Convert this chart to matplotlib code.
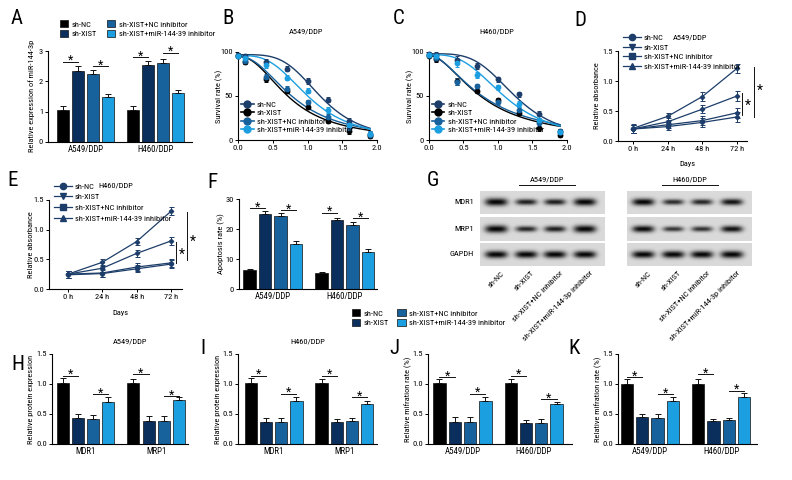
import numpy as np
import matplotlib
matplotlib.use('Agg')
import matplotlib.pyplot as plt
from matplotlib import font_manager as fm
from matplotlib.patches import Patch
from matplotlib.lines import Line2D

# ---------------- data ----------------
groups_cell = ['A549/DDP', 'H460/DDP']
groups_prot = ['MDR1', 'MRP1']
series = ['sh-NC', 'sh-XIST', 'sh-XIST+NC inhibitor', 'sh-XIST+miR-144-39 inhibitor']

A_mean = [[1.05, 2.35, 2.25, 1.50], [1.05, 2.55, 2.60, 1.60]]
A_err = [[0.15, 0.15, 0.12, 0.08], [0.15, 0.12, 0.15, 0.13]]
A_sig = [[2.65, 2.50], [2.80, 2.95]]

doses = [0.0, 0.1, 0.4, 0.7, 1.0, 1.3, 1.6, 1.9]
B_NC = [97, 95, 89, 81, 67, 46, 22, 7]
B_XIST = [95, 89, 69, 56, 38, 22, 10, 5]
B_NCinh = [95, 90, 72, 58, 43, 26, 14, 6]
B_miR = [96, 93, 85, 71, 56, 34, 17, 7]
B_err = [2, 3, 3, 3, 3, 3, 3, 3]
C_NC = [98, 97, 91, 84, 69, 52, 29, 10]
C_XIST = [96, 92, 67, 56, 45, 31, 14, 6]
C_NCinh = [97, 93, 66, 61, 43, 34, 19, 9]
C_miR = [97, 95, 87, 74, 60, 41, 23, 9]
C_err = [2, 3, 4, 3, 3, 3, 4, 3]

time_labels = ['0 h', '24 h', '48 h', '72 h']
D_NC = [0.21, 0.41, 0.74, 1.21]
D_XIST = [0.20, 0.24, 0.31, 0.40]
D_NCinh = [0.20, 0.27, 0.34, 0.47]
D_miR = [0.20, 0.32, 0.53, 0.75]
D_err = [0.07, 0.06, 0.07, 0.08]
E_NC = [0.25, 0.45, 0.80, 1.31]
E_XIST = [0.24, 0.26, 0.34, 0.42]
E_NCinh = [0.25, 0.27, 0.37, 0.44]
E_miR = [0.25, 0.35, 0.60, 0.81]
E_err = [0.06, 0.06, 0.06, 0.07]

F_mean = [[6.2, 25.1, 24.2, 15.1], [5.2, 23.1, 21.2, 12.2]]
F_err = [[0.6, 1.0, 1.2, 1.0], [0.4, 0.7, 1.0, 1.0]]
F_sig = [[27.0, 26.4], [25.5, 23.7]]

lanes = ['sh-NC', 'sh-XIST', 'sh-XIST+NC inhibitor', 'sh-XIST+miR-144-3p inhibitor']
blot_rows = ['MDR1', 'MRP1', 'GAPDH']
blot_A549 = [[1.00, 0.60, 0.62, 0.92], [1.00, 0.55, 0.62, 0.95], [1.00, 0.95, 0.95, 0.95]]
blot_H460 = [[0.85, 0.50, 0.55, 0.70], [0.78, 0.42, 0.45, 0.72], [0.95, 0.95, 0.95, 1.00]]

H_mean = [[1.02, 0.43, 0.42, 0.70], [1.02, 0.38, 0.38, 0.73]]
H_err = [[0.08, 0.07, 0.06, 0.08], [0.06, 0.09, 0.08, 0.05]]
H_sig = [[1.14, 0.83], [1.16, 0.80]]
I_mean = [[1.02, 0.37, 0.37, 0.72], [1.02, 0.36, 0.38, 0.67]]
I_err = [[0.08, 0.06, 0.06, 0.06], [0.06, 0.05, 0.05, 0.05]]
I_sig = [[1.14, 0.84], [1.14, 0.78]]
J_mean = [[1.01, 0.36, 0.37, 0.72], [1.02, 0.35, 0.35, 0.66]]
J_err = [[0.07, 0.09, 0.08, 0.06], [0.06, 0.05, 0.06, 0.04]]
J_sig = [[1.12, 0.84], [1.14, 0.75]]
K_mean = [[1.00, 0.45, 0.43, 0.72], [1.00, 0.38, 0.40, 0.79]]
K_err = [[0.08, 0.05, 0.07, 0.06], [0.08, 0.03, 0.04, 0.06]]
K_sig = [[1.12, 0.83], [1.16, 0.89]]

# ---------------- font selection ----------------
ttf = fm.fontManager.ttflist
names = {f.name for f in ttf}
narrow = None
stretch_mode = False
for cand in ['Liberation Sans Narrow', 'Arial Narrow', 'Roboto Condensed', 'Open Sans Condensed',
             'Noto Sans Condensed', 'DejaVu Sans Condensed']:
    if cand in names:
        narrow = cand
        break
if narrow is None:
    for base in ['Noto Sans', 'Open Sans', 'Roboto', 'DejaVu Sans', 'Inter']:
        if any(f.name == base and f.stretch in ('condensed', 'semi-condensed', 'extra-condensed')
               and f.weight in (400, 'normal', 'regular') and f.style == 'normal' for f in ttf):
            narrow = base
            stretch_mode = True
            break
if narrow is not None:
    plt.rcParams['font.family'] = [narrow, 'DejaVu Sans']
    if stretch_mode:
        plt.rcParams['font.stretch'] = 'condensed'
    TS, CS, LS = 6.0, 6.3, 6.0
else:
    base = 'Liberation Sans' if 'Liberation Sans' in names else 'DejaVu Sans'
    plt.rcParams['font.family'] = [base, 'DejaVu Sans']
    TS, CS, LS = 5.0, 5.4, 4.8

COLORS = ['#000000', '#0b2f5c', '#17619c', '#1c9fe0']
LINEC = '#1d3e6a'
W, Hh = 792, 480
fig = plt.figure(figsize=(7.92, 4.8), dpi=100)
GOFF = 4.65


def add_ax(l, t, r, b):
    return fig.add_axes([l / W, 1 - b / Hh, (r - l) / W, (b - t) / Hh])


def ftext(x, y, s, **kw):
    fig.text(x / W, 1 - y / Hh, s, **kw)


def style(ax):
    for s in ['top', 'right']:
        ax.spines[s].set_visible(False)
    for s in ['left', 'bottom']:
        ax.spines[s].set_linewidth(0.8)
    ax.tick_params(labelsize=TS, length=2.5, width=0.7, pad=1.0)
    ax.patch.set_alpha(0)


def star(ax, x, y, size=9):
    ax.annotate('*', (x, y), xytext=(0, -1.5), textcoords='offset points',
                ha='center', va='center', fontsize=size, annotation_clip=False)


def bar_panel(rect, xlim, mean, err, sig, ylim, yticks, cats, yfmt):
    ax = add_ax(*rect)
    style(ax)
    for g in range(len(mean)):
        for i in range(4):
            x = g * GOFF + i
            ax.bar(x, mean[g][i], 0.8, color=COLORS[i], edgecolor='#111111', linewidth=0.5, zorder=2)
            ax.errorbar(x, mean[g][i], yerr=[[0], [err[g][i]]], color='#111111', lw=0.7,
                        capsize=2.2, capthick=0.7, zorder=3)
        for k, h in enumerate(sig[g]):
            x0 = g * GOFF + 2 * k
            ax.plot([x0, x0 + 1], [h, h], color='#111111', lw=0.7, clip_on=False)
            star(ax, x0 + 0.5, h + (ylim[1] - ylim[0]) * 0.035)
    ax.set_xlim(*xlim)
    ax.set_ylim(*ylim)
    ax.set_yticks(yticks)
    ax.set_yticklabels([yfmt.format(v) for v in yticks])
    ax.set_xticks([g * GOFF + 1.5 for g in range(len(cats))])
    ax.set_xticklabels(cats, fontsize=CS)
    ax.tick_params(axis='x', length=0, pad=2)
    return ax


# ---------------- A ----------------
bar_panel((48, 51, 192, 142), (-1.0, 8.6), A_mean, A_err, A_sig, (0, 3), [0, 1, 2, 3], groups_cell, '{:d}')
ftext(32, 96, 'Relative expression of miR-144-3p', rotation=90, ha='center', va='center', fontsize=TS)
handles = [Patch(facecolor=c, edgecolor='#111111', linewidth=0.5) for c in COLORS]
fig.legend(handles, series, ncol=2, loc='upper left', bbox_to_anchor=(60 / W, 1 - 20 / Hh),
           fontsize=LS, frameon=False, handlelength=1.0, handleheight=1.0, columnspacing=1.2,
           labelspacing=0.25, handletextpad=0.4, borderpad=0, borderaxespad=0)


# ---------------- B, C ----------------
def fit_curve(x, y):
    x = np.asarray(x, float)
    y = np.asarray(y, float)
    top = y[0]
    best = None
    for c in np.linspace(0.4, 2.5, 211):
        for h in np.linspace(0.8, 6, 105):
            pred = top / (1 + (x / c) ** h)
            e = np.sum((pred - y) ** 2)
            if best is None or e < best[0]:
                best = (e, c, h)
    xs = np.linspace(0, x[-1], 200)
    return xs, top / (1 + (xs / best[1]) ** best[2])


SURV_COL = [LINEC, '#000000', '#17619c', '#1c9fe0']


def surv_panel(rect, data, err, title, title_xy):
    ax = add_ax(*rect)
    style(ax)
    for d, c in zip(data, SURV_COL):
        xs, ys = fit_curve(doses, d)
        ax.plot(xs, ys, color=c, lw=1.0, zorder=2)
        ax.errorbar(doses, d, yerr=err, fmt='o', color=c, ms=3.2, lw=0.7, capsize=1.5,
                    capthick=0.7, zorder=3, clip_on=False)
    ax.set_xlim(0, 2.0)
    ax.set_ylim(0, 100)
    ax.set_xticks([0, 0.5, 1.0, 1.5, 2.0])
    ax.set_xticklabels(['0.0', '0.5', '1.0', '1.5', '2.0'])
    ax.set_yticks([0, 50, 100])
    hs = [Line2D([], [], color=c, marker='o', ms=5, lw=1.2) for c in SURV_COL]
    ax.legend(hs, series, loc='upper left', bbox_to_anchor=((rect[0] + 3) / W, 1 - 101 / Hh),
              bbox_transform=fig.transFigure, fontsize=LS, frameon=False, handlelength=1.5,
              labelspacing=0.2, handletextpad=0.4, borderpad=0, borderaxespad=0)
    ftext(title_xy[0], title_xy[1], title, ha='center', va='center', fontsize=TS)
    return ax


surv_panel((238, 52, 377, 140), [B_NC, B_XIST, B_NCinh, B_miR], B_err, 'A549/DDP', (306, 31))
ftext(219, 96, 'Survival rate (%)', rotation=90, ha='center', va='center', fontsize=TS)
surv_panel((429, 52, 567, 140), [C_NC, C_XIST, C_NCinh, C_miR], C_err, 'H460/DDP', (497, 31))
ftext(410, 96, 'Survival rate (%)', rotation=90, ha='center', va='center', fontsize=TS)

# ---------------- D, E ----------------
MARKS = ['o', 'v', 's', '^']


def time_panel(rect, xlim, data, err, ylabel_x, days_y, title, title_xy, leg_xy, sig, lsp):
    ax = add_ax(*rect)
    style(ax)
    tx = np.arange(len(time_labels))
    for d in data:
        ax.errorbar(tx, d, yerr=err, color=LINEC, lw=0.9, marker='D', ms=2.2, capsize=1.8,
                    capthick=0.7, elinewidth=0.7)
    ax.set_xlim(*xlim)
    ax.set_ylim(0, 1.5)
    ax.set_yticks([0, 0.5, 1.0, 1.5])
    ax.set_yticklabels(['0.0', '0.5', '1.0', '1.5'])
    ax.set_xticks(tx)
    ax.set_xticklabels(time_labels)
    hs = [Line2D([], [], color=LINEC, marker=m, ms=4.5, lw=0.9) for m in MARKS]
    ax.legend(hs, series, loc='upper left', bbox_to_anchor=(leg_xy[0] / W, 1 - leg_xy[1] / Hh),
              bbox_transform=fig.transFigure, fontsize=LS, frameon=False, handlelength=2.2,
              labelspacing=lsp, handletextpad=0.3, borderpad=0, borderaxespad=0)
    ftext(title_xy[0], title_xy[1], title, ha='center', va='center', fontsize=TS)
    ftext((rect[0] + rect[2]) / 2 + 5, days_y, 'Days', ha='center', va='center', fontsize=TS)
    ftext(ylabel_x, (rect[1] + rect[3]) / 2, 'Relative absorbance', rotation=90, ha='center',
          va='center', fontsize=TS)
    for (x, y0, y1, sx, sy) in sig:
        ax.plot([x, x], [y0, y1], color='#111111', lw=0.7, clip_on=False)
        ax.annotate('*', (sx, sy), ha='center', va='center', fontsize=10, annotation_clip=False)
    return ax


time_panel((618, 51, 747, 141), (-0.43, 3.29), [D_NC, D_XIST, D_NCinh, D_miR], D_err,
           597, 164, 'A549/DDP', (690, 38), (623, 34),
           [(3.14, 0.43, 0.80, 3.30, 0.58), (3.49, 0.40, 1.23, 3.66, 0.83)], 0.35)
time_panel((49, 200, 182, 289), (-0.55, 3.32), [E_NC, E_XIST, E_NCinh, E_miR], E_err,
           31, 313, 'H460/DDP', (116, 186), (54, 183),
           [(3.15, 0.44, 0.79, 3.32, 0.57), (3.47, 0.49, 1.30, 3.64, 0.80)], 0.45)

# ---------------- F ----------------
bar_panel((239, 199, 377, 289), (-0.68, 8.23), F_mean, F_err, F_sig, (0, 30), [0, 10, 20, 30],
          groups_cell, '{:d}')
ftext(221, 244, 'Apoptosis rate (%)', rotation=90, ha='center', va='center', fontsize=TS)

# ---------------- G (western blot) ----------------
lane_frac = [0.13, 0.37, 0.60, 0.84]


def blot_box(l, t, r, b, strengths):
    ax = add_ax(l, t, r, b)
    ax.set_axis_off()
    nx, ny = (r - l) * 4, (b - t) * 4
    xs = np.linspace(0, 1, nx)[None, :]
    ys = np.linspace(0, 1, ny)[:, None]
    arr = np.full((ny, nx), 0.855)
    for xc, s in zip(lane_frac, strengths):
        wx = 0.078 + 0.012 * s
        wy = 0.07 + 0.09 * s
        prof = np.exp(-np.abs((xs - xc) / wx) ** 3.5) * np.exp(-((ys - 0.5) / wy) ** 2)
        arr -= 0.84 * min(1.0, 0.55 + 0.55 * s) * prof
    ax.imshow(np.clip(arr, 0, 1), cmap='gray', vmin=0, vmax=1, aspect='auto',
              interpolation='bilinear')


row_tb = [(191, 214), (217, 241), (243, 266)]
for (t, b), sa, sh in zip(row_tb, blot_A549, blot_H460):
    blot_box(480, t, 605, b, sa)
    blot_box(627, t, 752, b, sh)
for name, (t, b) in zip(blot_rows, row_tb):
    ftext(474, (t + b) / 2, name, ha='right', va='center', fontsize=TS)
ftext(547, 179, 'A549/DDP', ha='center', va='center', fontsize=TS)
ftext(690, 179, 'H460/DDP', ha='center', va='center', fontsize=TS)
fig.add_artist(Line2D([519 / W, 575 / W], [1 - 185 / Hh, 1 - 185 / Hh], color='#111111', lw=0.7))
fig.add_artist(Line2D([662 / W, 718 / W], [1 - 185 / Hh, 1 - 185 / Hh], color='#111111', lw=0.7))
for box_l in (480, 627):
    for fr, name in zip(lane_frac, lanes):
        x = box_l + fr * 125 + 5
        fig.text(x / W, 1 - 270 / Hh, name, rotation=45, ha='right', va='top',
                 rotation_mode='anchor', fontsize=LS)

# ---------------- H-K ----------------
fig.legend(handles, series, ncol=2, loc='upper left', bbox_to_anchor=(352 / W, 1 - 309 / Hh),
           fontsize=LS, frameon=False, handlelength=1.0, handleheight=1.0, columnspacing=1.0,
           labelspacing=0.25, handletextpad=0.4, borderpad=0, borderaxespad=0)

bar_panel((52, 354, 188, 444), (-0.72, 8.25), H_mean, H_err, H_sig, (0, 1.5), [0, 0.5, 1.0, 1.5],
          groups_prot, '{:.1f}')
ftext(31, 399, 'Relative protein expression', rotation=90, ha='center', va='center', fontsize=TS)
ftext(130, 342, 'A549/DDP', ha='center', va='center', fontsize=TS)
bar_panel((238, 354, 377, 444), (-0.85, 8.3), I_mean, I_err, I_sig, (0, 1.5), [0, 0.5, 1.0, 1.5],
          groups_prot, '{:.1f}')
ftext(218, 399, 'Relative protein expression', rotation=90, ha='center', va='center', fontsize=TS)
ftext(308, 342, 'H460/DDP', ha='center', va='center', fontsize=TS)
bar_panel((428, 354, 572, 444), (-0.75, 8.66), J_mean, J_err, J_sig, (0, 1.5), [0, 0.5, 1.0, 1.5],
          groups_cell, '{:.1f}')
ftext(408, 399, 'Relative mifration rate (%)', rotation=90, ha='center', va='center', fontsize=TS)
bar_panel((618, 354, 757, 444), (-0.59, 8.5), K_mean, K_err, K_sig, (0, 1.5), [0, 0.5, 1.0, 1.5],
          groups_cell, '{:.1f}')
ftext(598, 399, 'Relative mifration rate (%)', rotation=90, ha='center', va='center', fontsize=TS)

# ---------------- panel letters ----------------
for s, x, y in [('A', 17, 18), ('B', 228, 19), ('C', 399, 19), ('D', 580, 21), ('E', 13, 181),
                ('F', 212, 182), ('G', 433, 180), ('H', 18, 364), ('I', 203, 348),
                ('J', 394, 348), ('K', 574, 348)]:
    ftext(x, y, s, ha='center', va='center', fontsize=15)

fig.savefig('out.png', dpi=100)
